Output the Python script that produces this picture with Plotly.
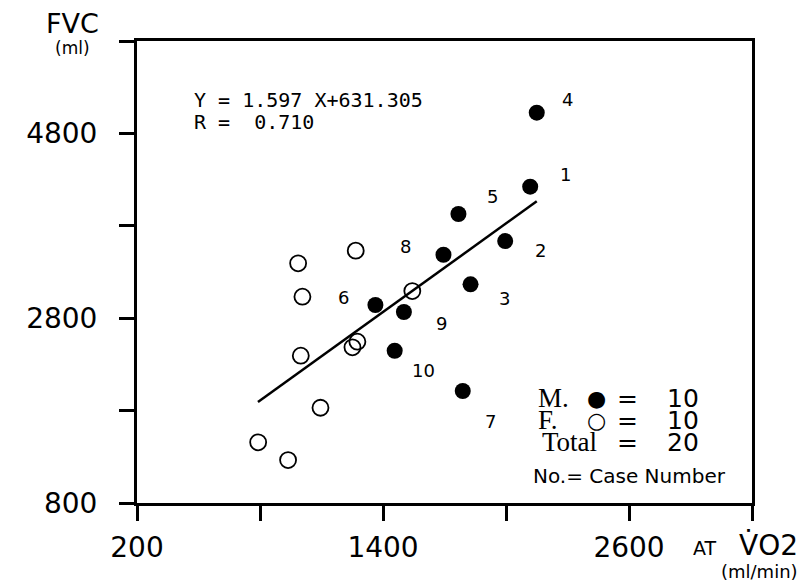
import plotly.graph_objects as go

# ---- data ----
male_x = [2118, 1996, 1827, 2150, 1768, 1363, 1789, 1695, 1502, 1457]
male_y = [4223, 3635, 3167, 5024, 3928, 2943, 2012, 3487, 2867, 2448]
male_case = ["1", "2", "3", "4", "5", "6", "7", "8", "9", "10"]
label_dx = [35, 35, 34, 31, 34, -32, 28, -38, 38, 29]
label_dy = [12, -9, -14, 13, 17, 7, -30, 8, -11, -20]

female_x = [986, 1267, 1007, 1543, 999, 1275, 1251, 1095, 791, 937]
female_y = [3394, 3531, 3033, 3094, 2394, 2546, 2485, 1831, 1457, 1265]

slope = 1.597
intercept = 631.305
r_value = 0.710
line_x = [790, 2150]
line_y = [slope * v + intercept for v in line_x]

x_ticks = [200, 800, 1400, 2000, 2600, 3200]
x_ticktext = ["200", "", "1400", "", "2600", ""]
y_ticks = [800, 1800, 2800, 3800, 4800, 5800]
y_ticktext = ["800", "", "2800", "", "4800", ""]

W, H = 802, 581
L, R, T, B = 137, 50, 41, 78
PW, PH = W - L - R, H - T - B


def px(xp):
    return (xp - L) / PW


def py(yp):
    return (H - B - yp) / PH


fig = go.Figure()
fig.add_trace(go.Scatter(x=line_x, y=line_y, mode="lines",
                         line=dict(color="black", width=2.5), showlegend=False))
fig.add_trace(go.Scatter(x=female_x, y=female_y, mode="markers",
                         marker=dict(symbol="circle-open", size=16, color="black",
                                     line=dict(width=1.8, color="black")),
                         showlegend=False))
fig.add_trace(go.Scatter(x=male_x, y=male_y, mode="markers",
                         marker=dict(symbol="circle", size=16, color="black"),
                         showlegend=False))

ann = []
for xv, yv, c, dx, dy in zip(male_x, male_y, male_case, label_dx, label_dy):
    ann.append(dict(x=xv, y=yv, xref="x", yref="y", text=c, showarrow=False,
                    xshift=dx, yshift=dy,
                    font=dict(family="DejaVu Sans", size=18, color="black")))

mono = dict(family="DejaVu Sans Mono", size=20, color="black")
ann.append(dict(x=px(192), y=py(100), xref="paper", yref="paper",
                text=f"Y = {slope} X+{intercept}", showarrow=False,
                xanchor="left", yanchor="middle", font=mono))
ann.append(dict(x=px(192), y=py(122), xref="paper", yref="paper",
                text=f"R =  {r_value:.3f}", showarrow=False,
                xanchor="left", yanchor="middle", font=mono))

# axis titles
ann.append(dict(x=px(72), y=py(24), xref="paper", yref="paper", text="FVC",
                showarrow=False, xanchor="center", yanchor="middle",
                font=dict(family="DejaVu Sans", size=27, color="black")))
ann.append(dict(x=px(72), y=py(48), xref="paper", yref="paper", text="(ml)",
                showarrow=False, xanchor="center", yanchor="middle",
                font=dict(family="DejaVu Sans", size=17, color="black")))
ann.append(dict(x=px(705), y=py(548), xref="paper", yref="paper", text="AT",
                showarrow=False, xanchor="center", yanchor="middle",
                font=dict(family="DejaVu Sans", size=19, color="black")))
ann.append(dict(x=px(800), y=py(545), xref="paper", yref="paper", text="V\u0307O2",
                showarrow=False, xanchor="right", yanchor="middle",
                font=dict(family="DejaVu Sans", size=28, color="black")))
ann.append(dict(x=px(800), y=py(571), xref="paper", yref="paper", text="(ml/min)",
                showarrow=False, xanchor="right", yanchor="middle",
                font=dict(family="DejaVu Sans", size=18, color="black")))

# legend block
serif = dict(family="Liberation Serif", size=27, color="black")
sans_big = dict(family="DejaVu Sans", size=25, color="black")
rows = [("M.", "\u25cf", "10", 398), ("F.", "\u25cb", "10", 420)]
for lab, sym, n, yy in rows:
    ann.append(dict(x=px(536), y=py(yy), xref="paper", yref="paper", text=lab,
                    showarrow=False, xanchor="left", yanchor="middle", font=serif))
    ann.append(dict(x=px(596), y=py(yy), xref="paper", yref="paper", text=sym,
                    showarrow=False, xanchor="center", yanchor="middle",
                    font=dict(family="DejaVu Sans", size=22, color="black")))
    ann.append(dict(x=px(627), y=py(yy), xref="paper", yref="paper", text="=",
                    showarrow=False, xanchor="center", yanchor="middle", font=sans_big))
    ann.append(dict(x=px(683), y=py(yy), xref="paper", yref="paper", text=n,
                    showarrow=False, xanchor="center", yanchor="middle", font=sans_big))
ann.append(dict(x=px(540), y=py(442), xref="paper", yref="paper", text="Total",
                showarrow=False, xanchor="left", yanchor="middle", font=serif))
ann.append(dict(x=px(627), y=py(442), xref="paper", yref="paper", text="=",
                showarrow=False, xanchor="center", yanchor="middle", font=sans_big))
ann.append(dict(x=px(683), y=py(442), xref="paper", yref="paper", text="20",
                showarrow=False, xanchor="center", yanchor="middle", font=sans_big))
ann.append(dict(x=px(531), y=py(476), xref="paper", yref="paper", text="No.= Case Number",
                showarrow=False, xanchor="left", yanchor="middle",
                font=dict(family="DejaVu Sans", size=20, color="black")))

axis_common = dict(showgrid=False, zeroline=False, showline=True, linecolor="black",
                   linewidth=3, mirror=True, ticks="outside", ticklen=15, tickwidth=3,
                   tickcolor="black",
                   tickfont=dict(family="DejaVu Sans", size=28, color="black"))

fig.update_layout(
    width=W, height=H,
    margin=dict(l=L, r=R, t=T, b=B),
    paper_bgcolor="white", plot_bgcolor="white",
    xaxis=dict(range=[200, 3200], tickmode="array", tickvals=x_ticks,
               ticktext=x_ticktext, ticklabelstandoff=2, **axis_common),
    yaxis=dict(range=[800, 5800], tickmode="array", tickvals=y_ticks,
               ticktext=y_ticktext, ticklabelstandoff=16, **axis_common),
    annotations=ann,
    showlegend=False,
)

fig.write_html("out.html")
